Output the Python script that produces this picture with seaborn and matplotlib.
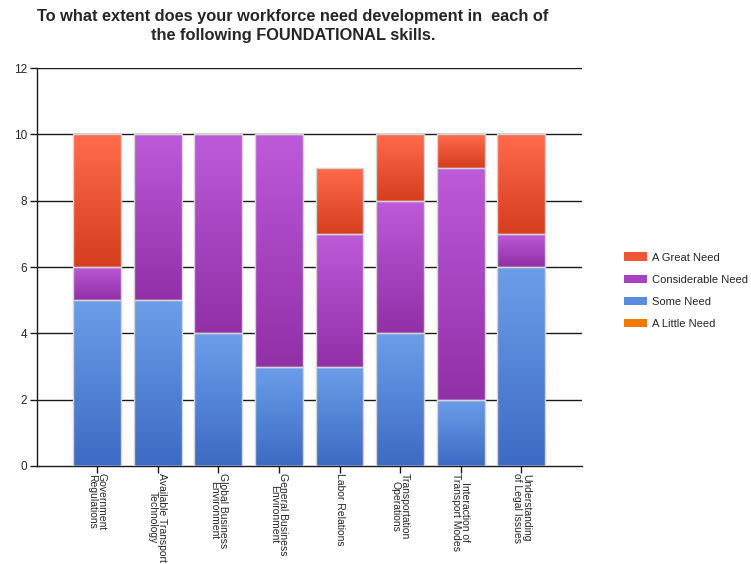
import numpy as np
import pandas as pd
import matplotlib
matplotlib.use("Agg")
import matplotlib.pyplot as plt
import seaborn as sns
from matplotlib.patches import Patch
from matplotlib.colors import LinearSegmentedColormap

categories = ["Government\nRegulations", "Available Transport\nTechnology",
              "Global Business\nEnvironment", "General Business\nEnvironment",
              "Labor Relations", "Transportation\nOperations",
              "Interaction of\nTransport Modes", "Understanding\nof Legal Issues"]
little_need = [0, 0, 0, 0, 0, 0, 0, 0]
some_need = [5, 5, 4, 3, 3, 4, 2, 6]
considerable_need = [1, 5, 6, 7, 4, 4, 7, 1]
great_need = [4, 0, 0, 0, 2, 2, 1, 3]
yticks = [0, 2, 4, 6, 8, 10, 12]

series = [("A Little Need", little_need), ("Some Need", some_need),
          ("Considerable Need", considerable_need), ("A Great Need", great_need)]
grad = {
    "A Little Need": ("#f59a30", "#e06c00"),
    "Some Need": ("#6c9de9", "#3d6bc3"),
    "Considerable Need": ("#bc5ad9", "#9130a7"),
    "A Great Need": ("#ff6b4b", "#d53e1e"),
}
legend_colors = {"A Great Need": "#ee5637", "Considerable Need": "#a743c2",
                 "Some Need": "#5a8cde", "A Little Need": "#ee7a00"}

sns.set_style("white")
plt.rcParams["font.family"] = ["Liberation Sans", "DejaVu Sans"]

fig = plt.figure(figsize=(7.51, 5.64), dpi=100)
ax = fig.add_axes([37/751, 1-466/564, 545/751, 398/564])

x = np.arange(len(categories))
bottom = np.zeros(len(categories))
for name, vals in series:
    df = pd.DataFrame({"cat": categories, "val": vals})
    n_before = len(ax.patches)
    sns.barplot(data=df, x="cat", y="val", order=categories, color=grad[name][0],
                width=0.79, ax=ax, zorder=3)
    new = ax.patches[n_before:]
    cmap = LinearSegmentedColormap.from_list(name, [grad[name][1], grad[name][0]])
    for p, b, v in zip(new, bottom, vals):
        p.set_y(b)
        p.set_height(v)
        p.set_facecolor("none")
        p.set_edgecolor("#d4d4d4")
        p.set_linewidth(1.0)
        p.set_zorder(4)
        if v > 0:
            px, pw = p.get_x(), p.get_width()
            img = ax.imshow(np.linspace(0, 1, 64).reshape(-1, 1), cmap=cmap,
                            extent=[px, px + pw, b, b + v], origin="lower",
                            aspect="auto", zorder=3, interpolation="bilinear")
            img.set_clip_path(p)
    bottom = bottom + np.array(vals)

ax.set_xlim(-0.99, 8.0)
ax.set_ylim(0, 12)
ax.set_aspect("auto")
ax.set_yticks(yticks)
ax.set_yticklabels([str(t) for t in yticks], fontsize=8.5)
for t in yticks[1:]:
    ax.axhline(t, color="#1a1a1a", linewidth=1.0, zorder=1)

ax.set_xticks(x)
ax.set_xticklabels(categories, rotation=270, fontsize=7.5, ha="center", va="top",
                   linespacing=0.9)
ax.set_xlabel("")
ax.set_ylabel("")
ax.tick_params(axis="both", which="both", direction="out", length=5, width=1,
               color="#1a1a1a", pad=2, left=True, bottom=True)
ax.tick_params(axis="x", pad=0)
for s in ["top", "right"]:
    ax.spines[s].set_visible(False)
for s in ["left", "bottom"]:
    ax.spines[s].set_color("#1a1a1a")
    ax.spines[s].set_linewidth(1.0)

fig.text(0.39, 0.984, "To what extent does your workforce need development in  each of\nthe following FOUNDATIONAL skills.",
         ha="center", va="top", fontsize=11.8, fontweight="bold",
         family=["Liberation Sans", "DejaVu Sans"],
         linespacing=1.3)

order = ["A Great Need", "Considerable Need", "Some Need", "A Little Need"]
handles = [Patch(facecolor=legend_colors[n], edgecolor="none") for n in order]
fig.legend(handles, order, loc="upper left", bbox_to_anchor=(620/751, 1-248/564),
           frameon=False, fontsize=8, handlelength=2.0, handleheight=0.8,
           labelspacing=1.08, handletextpad=0.5, borderaxespad=0)

fig.savefig("out.png", dpi=100)
